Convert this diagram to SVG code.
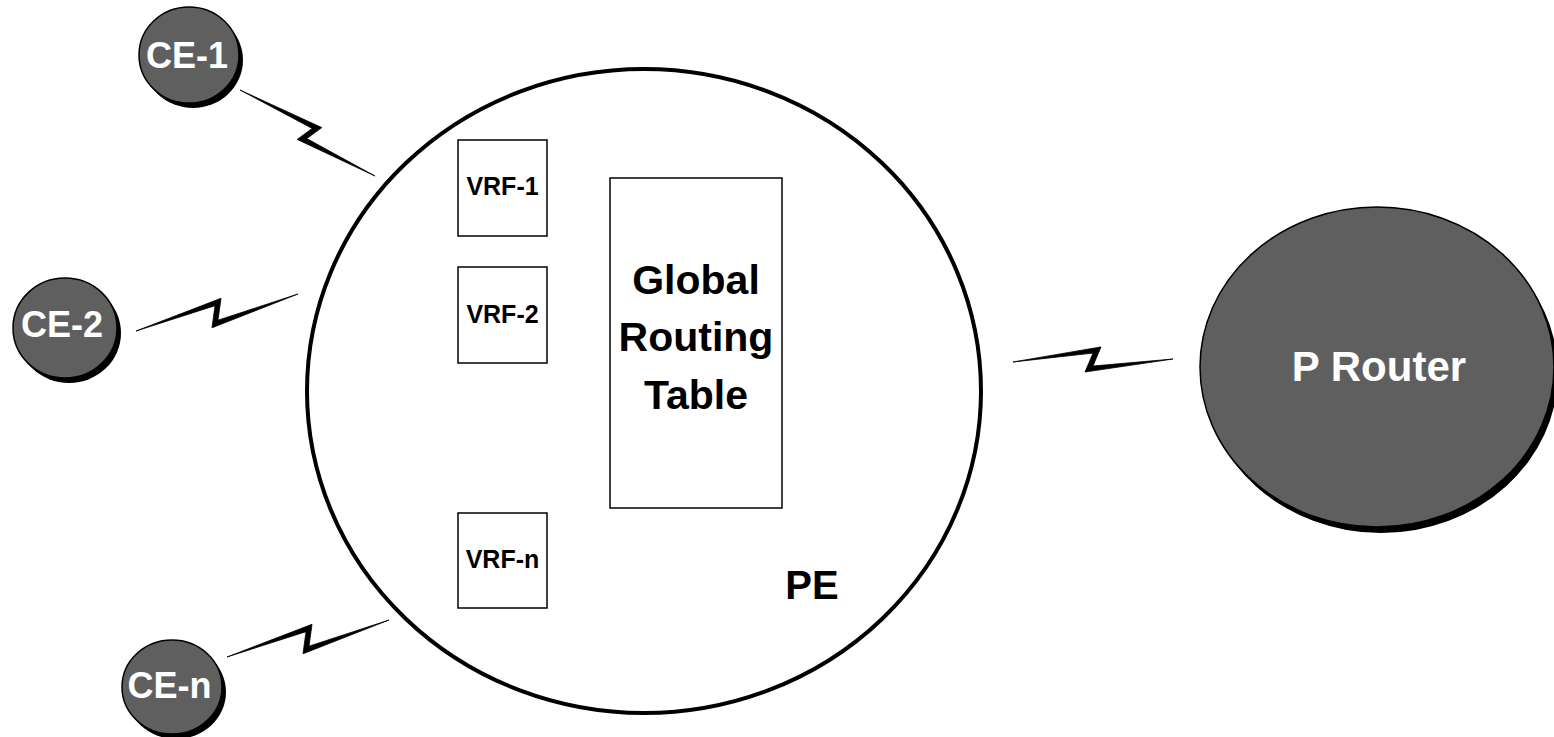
<svg xmlns="http://www.w3.org/2000/svg" width="1554" height="737" viewBox="0 0 1554 737">
  <style>
    .shadow { fill: #000; }
    .dev { fill: #5f5f5f; stroke: #000; stroke-width: 1.5; }
    .pe { fill: none; stroke: #000; stroke-width: 4; }
    .box { fill: #fff; stroke: #000; stroke-width: 1.5; }
    .bolt { fill: #000; stroke: #000; stroke-width: 0.8; stroke-linejoin: miter; }
    .wl { font-family: "Liberation Sans", Arial, sans-serif; font-weight: bold; fill: #fff; text-anchor: middle; }
    .bl { font-family: "Liberation Sans", Arial, sans-serif; font-weight: bold; fill: #000; text-anchor: middle; }
  </style>
  <rect width="1554" height="737" fill="#fff"/>

  <g id="connectors">
    <polygon class="bolt" points="240,90 321.8,127.6 306.8,138.6 375,176 297.2,139.4 312.2,128.4"/>
    <polygon class="bolt" points="136,331 221,298.3 218,320.2 298,294 212,327.8 215,305.7"/>
    <polygon class="bolt" points="227,657 312,624.3 309,646.2 389,620 303,653.8 306,631.7"/>
    <polygon class="bolt" points="1013,362 1101,346.9 1093,366 1173,359 1085,372 1093,353.1"/>
  </g>

  <g id="pe">
    <ellipse class="pe" cx="644" cy="391" rx="337" ry="322"/>
    <text class="bl" x="812" y="599" font-size="40">PE</text>
  </g>

  <g id="vrf-1">
    <rect class="box" x="458" y="140" width="89" height="96"/>
    <text class="bl" x="502.5" y="195" font-size="25">VRF-1</text>
  </g>
  <g id="vrf-2">
    <rect class="box" x="458" y="267" width="89" height="96"/>
    <text class="bl" x="502.5" y="323" font-size="25">VRF-2</text>
  </g>
  <g id="vrf-n">
    <rect class="box" x="458" y="513" width="89" height="95"/>
    <text class="bl" x="502.5" y="568" font-size="25">VRF-n</text>
  </g>
  <g id="global-routing-table">
    <rect class="box" x="610" y="178" width="172" height="330"/>
    <text class="bl" x="696" y="294" font-size="41">Global</text>
    <text class="bl" x="696" y="351" font-size="41">Routing</text>
    <text class="bl" x="696" y="409" font-size="41">Table</text>
  </g>

  <g id="ce-1">
    <ellipse class="shadow" cx="193" cy="60" rx="50" ry="48"/>
    <ellipse class="dev" cx="189" cy="55" rx="50" ry="48"/>
    <text class="wl" x="187" y="68" font-size="36">CE-1</text>
  </g>
  <g id="ce-2">
    <ellipse class="shadow" cx="69" cy="333" rx="52" ry="50"/>
    <ellipse class="dev" cx="65" cy="328" rx="52" ry="50"/>
    <text class="wl" x="62" y="337" font-size="36">CE-2</text>
  </g>
  <g id="ce-n">
    <ellipse class="shadow" cx="176" cy="692" rx="50" ry="47"/>
    <ellipse class="dev" cx="172" cy="687" rx="50" ry="47"/>
    <text class="wl" x="169.5" y="698" font-size="36">CE-n</text>
  </g>

  <g id="p-router">
    <ellipse class="shadow" cx="1381" cy="373" rx="177" ry="160"/>
    <ellipse class="dev" cx="1377" cy="367" rx="177" ry="160"/>
    <text class="wl" x="1379" y="381" font-size="42">P Router</text>
  </g>
</svg>
